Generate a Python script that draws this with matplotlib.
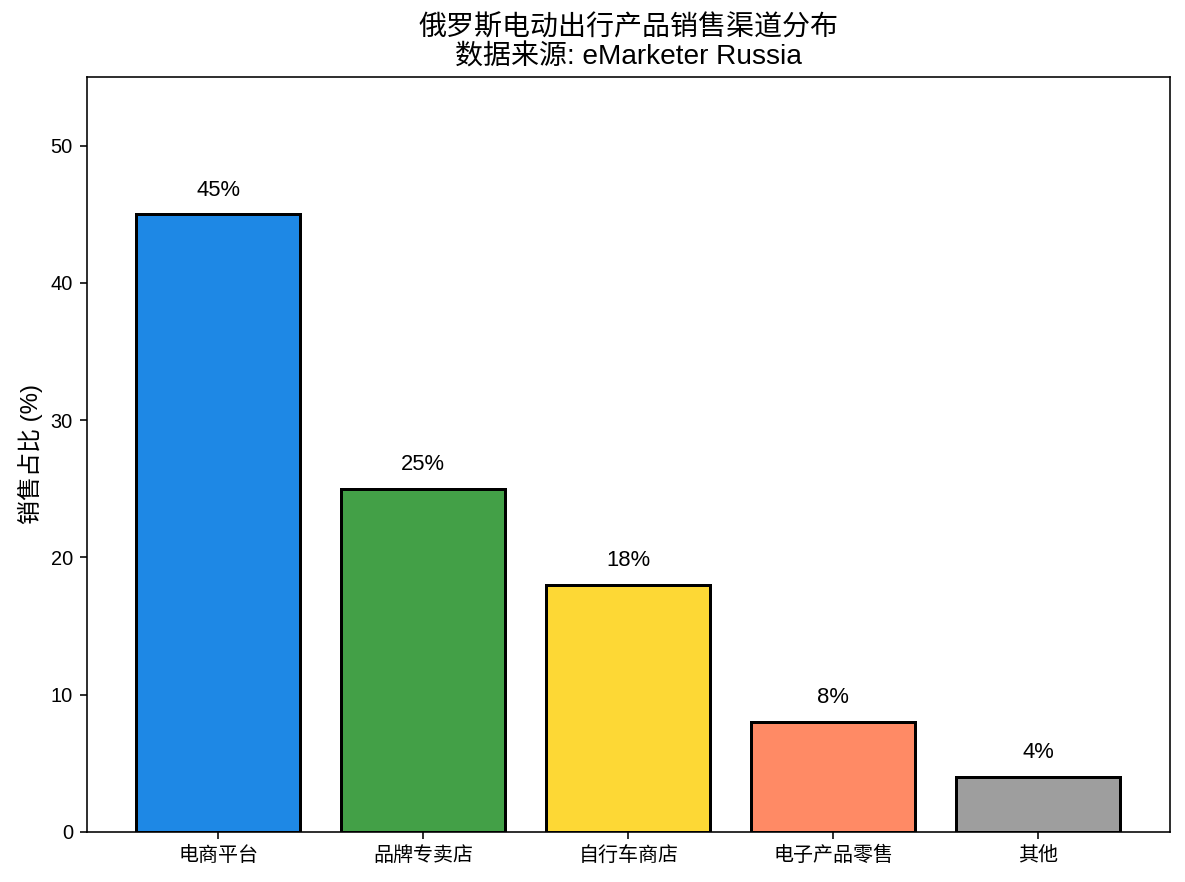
import matplotlib
matplotlib.use('Agg')
import matplotlib.pyplot as plt

plt.rcParams['font.family'] = ['Liberation Sans', 'Noto Sans CJK SC', 'DejaVu Sans']

channels = ['电商平台', '品牌专卖店', '自行车商店', '电子产品零售', '其他']
shares = [45, 25, 18, 8, 4]
colors = ['#1E88E5', '#43A047', '#FDD835', '#FF8A65', '#9E9E9E']

fig = plt.figure(figsize=(1185 / 144, 882 / 144), dpi=144)
ax = fig.add_axes([0.0734, 0.0567, 0.9136, 0.856])

bars = ax.bar(channels, shares, color=colors, edgecolor='black', linewidth=1.5, width=0.8)
for b, v in zip(bars, shares):
    ax.text(b.get_x() + b.get_width() / 2, v + 1, f'{v}%', ha='center', va='bottom', fontsize=11)

ax.set_ylim(0, 55)
ax.set_ylabel('销售占比 (%)', fontsize=12)
ax.set_title('俄罗斯电动出行产品销售渠道分布\n数据来源: eMarketer Russia', fontsize=14, linespacing=1.15)
ax.tick_params(labelsize=10)

fig.savefig('out.png', dpi=144)
